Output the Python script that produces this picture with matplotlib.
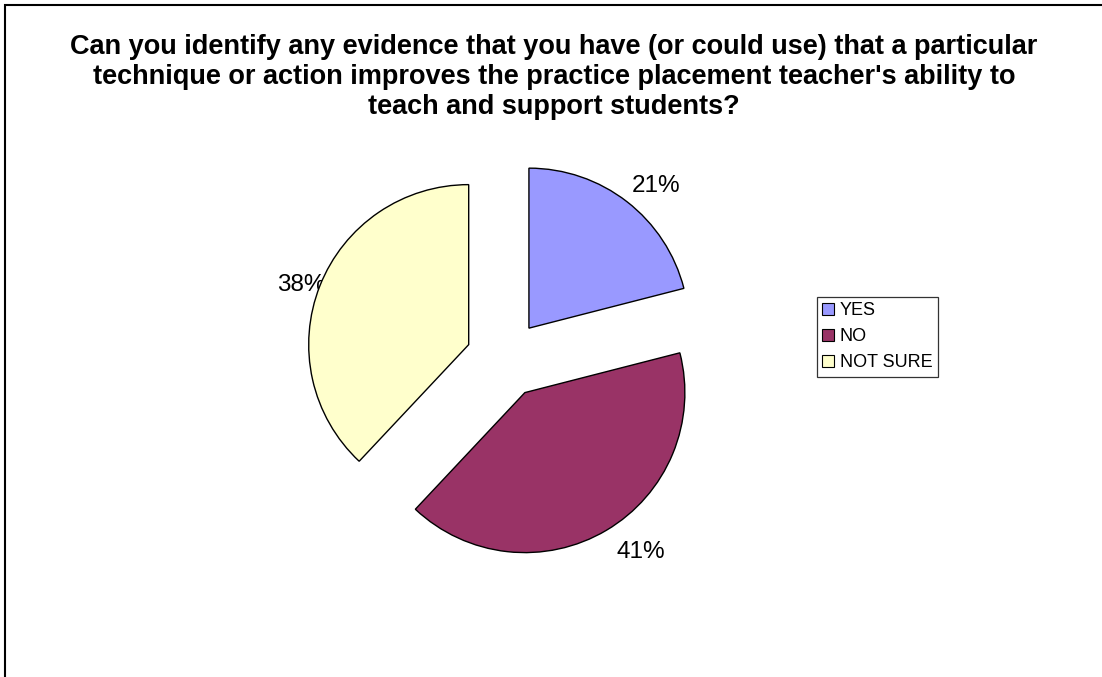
import matplotlib
matplotlib.use("Agg")
import matplotlib.pyplot as plt
from matplotlib.patches import Patch, Rectangle

plt.rcParams['font.family'] = ['Liberation Sans', 'DejaVu Sans']

# Survey answers
categories = ["YES", "NO", "NOT SURE"]
shares = [21, 41, 38]
colors = ["#9999FF", "#993366", "#FFFFCC"]
title = ("Can you identify any evidence that you have (or could use) that a particular\n"
         "technique or action improves the practice placement teacher's ability to\n"
         "teach and support students?")

W, H = 1102, 677
fig = plt.figure(figsize=(W / 100, H / 100), dpi=100)
fig.patch.set_facecolor("white")

# Pie drawn in units of its radius; the canvas maps one radius to R pixels
R = 160.0
cx, cy = 505.0, 359.0
ax = fig.add_axes([0, 0, 1, 1])
wedges, _ = ax.pie(shares, colors=colors, startangle=90, counterclock=False,
                   explode=[0.244] * len(shares), radius=1.0,
                   wedgeprops=dict(edgecolor="black", linewidth=1.0))
ax.set_xlim(-cx / R, (W - cx) / R)
ax.set_ylim(-(H - cy) / R, cy / R)
ax.set_aspect("auto")
ax.axis("off")

# Percentage labels placed just outside each slice
label_pos = [(0.944, 1.081), (0.85, -1.206), (-1.275, 0.4625)]
for v, (lx, ly) in zip(shares, label_pos):
    ax.text(lx, ly, f"{v}%", ha="center", va="center", fontsize=17.5, color="black",
            zorder=0)

fig.text(554 / W, 1 - 34 / H, title, ha="center", va="top", fontsize=19.5,
         fontweight="bold", linespacing=1.2)

handles = [Patch(facecolor=c, edgecolor="black", linewidth=0.8) for c in colors]
leg = fig.legend(handles, categories, loc="upper left",
                 bbox_to_anchor=(817 / W, 1 - 297 / H), borderaxespad=0,
                 fontsize=13, frameon=True, fancybox=False, edgecolor="black",
                 handlelength=0.65, handleheight=0.65, handletextpad=0.3,
                 labelspacing=0.5, borderpad=0.3)
leg.get_frame().set_linewidth(0.9)

# Chart area border (left and top edges visible)
fig.patches.append(Rectangle((5 / W, -0.1), 1.5, 1.1 - 5 / H,
                             transform=fig.transFigure, fill=False,
                             edgecolor="black", linewidth=1.5))

fig.savefig("out.png", dpi=100, facecolor="white")
